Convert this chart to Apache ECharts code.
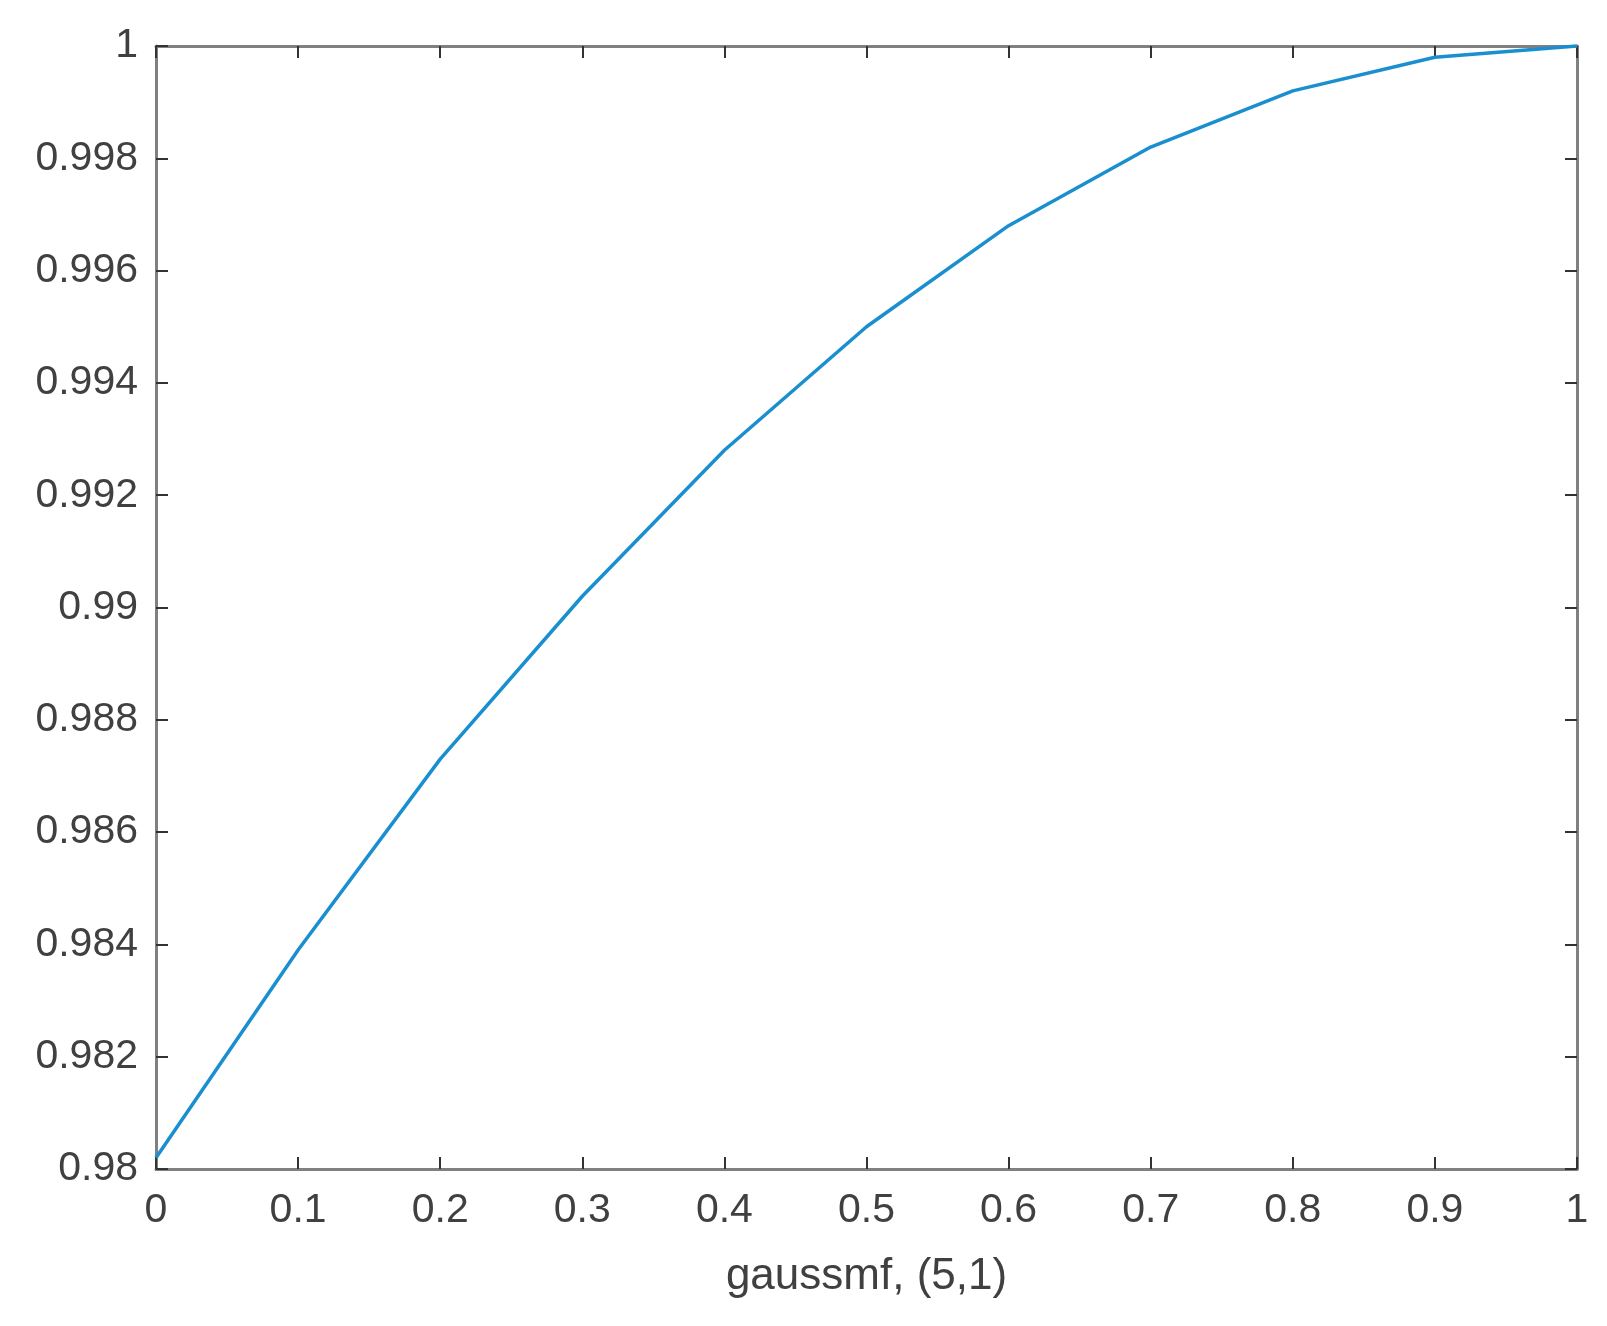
<!DOCTYPE html>
<html>
<head>
<meta charset="utf-8">
<script src="https://cdn.jsdelivr.net/npm/echarts@6/dist/echarts.min.js"></script>
<style>
html,body{margin:0;padding:0;background:#fff;}
#chart{width:1607px;height:1326px;}
</style>
</head>
<body>
<div id="chart"></div>
<script>
const xValues = [0, 0.1, 0.2, 0.3, 0.4, 0.5, 0.6, 0.7, 0.8, 0.9, 1];
const yValues = [0.9802, 0.9839, 0.9873, 0.9902, 0.9928, 0.9950, 0.9968, 0.9982, 0.9992, 0.9998, 1.0];
const xAxisName = 'gaussmf, (5,1)';

const axisColor = '#808080';
const textColor = '#404040';
const fontFamily = 'Liberation Sans, Arial, sans-serif';

const chart = echarts.init(document.getElementById('chart'));
const fmt = v => String(parseFloat(Number(v).toFixed(4)));

const common = {
  type: 'value',
  axisLine: {show: true, onZero: false, lineStyle: {color: axisColor, width: 3}},
  axisTick: {show: true, inside: true, length: 12, lineStyle: {color: '#333', width: 2}},
  splitLine: {show: false}
};

chart.setOption({
  animation: false,
  backgroundColor: '#fff',
  grid: {left: 156, right: 30, top: 46, bottom: 157, containLabel: false},
  xAxis: [
    Object.assign({}, common, {
      position: 'bottom', min: 0, max: 1, interval: 0.1,
      axisLabel: {color: textColor, fontSize: 41, fontFamily, margin: 21, formatter: fmt},
      name: xAxisName, nameLocation: 'middle', nameGap: 86,
      nameTextStyle: {color: textColor, fontSize: 44, fontFamily}
    }),
    Object.assign({}, common, {
      position: 'top', min: 0, max: 1, interval: 0.1,
      axisLabel: {show: false}
    })
  ],
  yAxis: [
    Object.assign({}, common, {
      position: 'left', min: 0.98, max: 1, interval: 0.002,
      axisLabel: {color: textColor, fontSize: 41, fontFamily, margin: 18, formatter: fmt}
    }),
    Object.assign({}, common, {
      position: 'right', min: 0.98, max: 1, interval: 0.002,
      axisLabel: {show: false}
    })
  ],
  series: [{
    type: 'line',
    xAxisIndex: 0, yAxisIndex: 0,
    data: xValues.map((x, i) => [x, yValues[i]]),
    showSymbol: false, symbol: 'none',
    lineStyle: {color: '#1a8fd0', width: 3.5},
    clip: false
  }]
});
</script>
</body>
</html>
